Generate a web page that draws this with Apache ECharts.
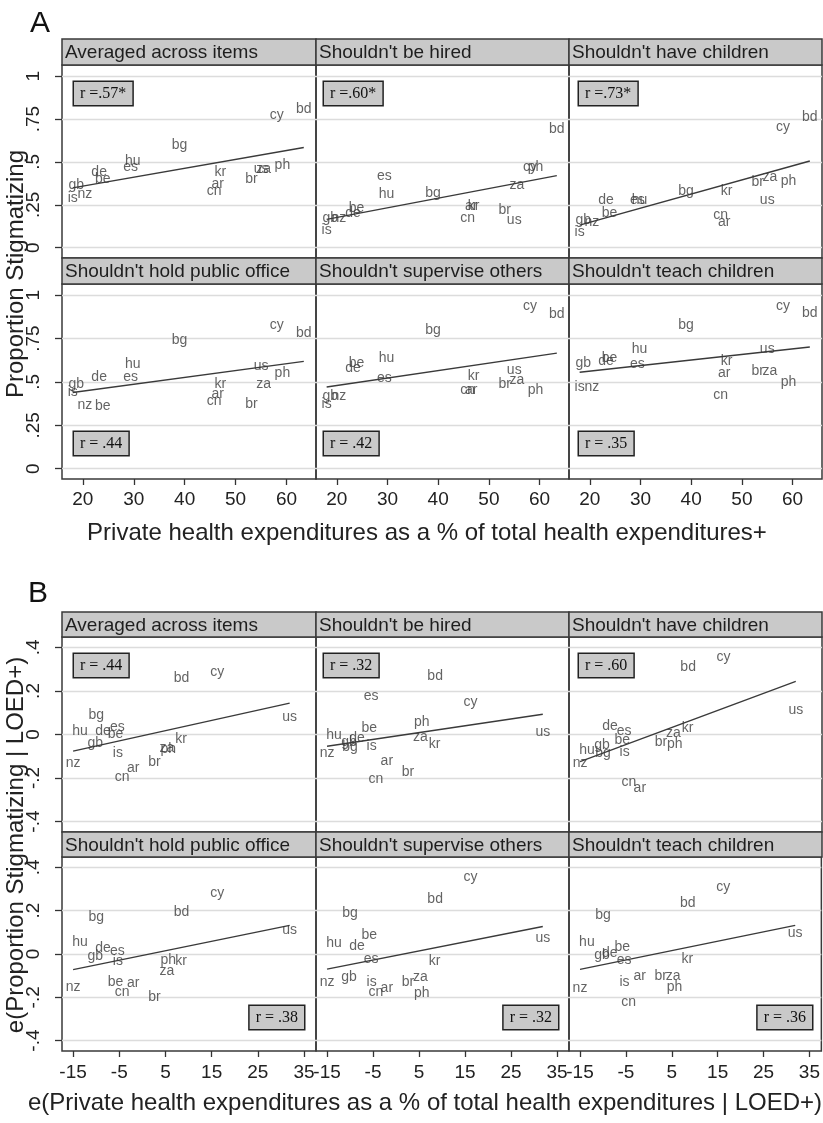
<!DOCTYPE html>
<html><head><meta charset="utf-8">
<script src="https://cdn.jsdelivr.net/npm/echarts@6/dist/echarts.min.js"></script>
<style>html,body{margin:0;padding:0;background:#fff}#c{width:823px;height:1123px}</style>
</head><body><div id="c"></div>
<script>
// ---------- DATA ----------
const countries = ['ar','bd','be','bg','br','cn','cy','de','es','gb','hu','is','kr','nz','ph','us','za'];
const panelTitles = ["Averaged across items","Shouldn't be hired","Shouldn't have children","Shouldn't hold public office","Shouldn't supervise others","Shouldn't teach children"];

// Figure A: private health expenditures (% of total) vs proportion stigmatizing
const xTicksA = [20,30,40,50,60];
const yTicksA = [0,0.25,0.5,0.75,1];
const xA = [46.5,63.4,23.9,39.0,53.1,45.8,58.1,23.2,29.4,18.7,29.8,18.0,47.0,20.4,59.2,55.0,55.5];
const yAvgA       = [0.37,0.81,0.40,0.60,0.40,0.33,0.77,0.44,0.47,0.365,0.504,0.29,0.44,0.31,0.48,0.46,0.46];
const yHiredA     = [0.24,0.69,0.23,0.32,0.22,0.17,0.47,0.20,0.42,0.17,0.31,0.10,0.24,0.17,0.47,0.16,0.365];
const yChildrenA  = [0.15,0.76,0.20,0.33,0.385,0.19,0.70,0.28,0.28,0.16,0.28,0.09,0.33,0.15,0.39,0.28,0.41];
const yOfficeA    = [0.43,0.78,0.36,0.74,0.37,0.39,0.83,0.525,0.525,0.49,0.60,0.44,0.49,0.365,0.55,0.59,0.49];
const ySuperviseA = [0.45,0.89,0.61,0.80,0.49,0.45,0.94,0.58,0.52,0.42,0.635,0.37,0.535,0.42,0.45,0.57,0.51];
const yTeachA     = [0.55,0.895,0.64,0.83,0.56,0.425,0.94,0.62,0.60,0.61,0.69,0.47,0.62,0.47,0.50,0.69,0.56];
const rLabelsA = ['r =.57*','r =.60*','r =.73*','r = .44','r = .42','r = .35'];

// Figure B: residuals given LOED+
const xTicksB = [-15,-5,5,15,25,35];
const yTicksB = [-0.4,-0.2,0,0.2,0.4];
const xB = [-2.0,8.5,-5.8,-10.0,2.6,-4.4,16.2,-8.5,-5.4,-10.2,-13.5,-5.3,8.4,-15.0,5.6,31.9,5.3];
const yAvgB       = [-0.154,0.257,0.0,0.088,-0.125,-0.194,0.288,0.014,0.034,-0.04,0.014,-0.086,-0.023,-0.13,-0.068,0.08,-0.062];
const yHiredB     = [-0.123,0.268,0.031,-0.058,-0.174,-0.205,0.149,-0.015,0.175,-0.035,-0.005,-0.054,-0.046,-0.085,0.057,0.011,-0.012];
const yChildrenB  = [-0.246,0.31,-0.028,-0.086,-0.035,-0.217,0.357,0.037,0.015,-0.05,-0.074,-0.082,0.031,-0.132,-0.046,0.114,0.006];
const yOfficeB    = [-0.135,0.195,-0.132,0.172,-0.2,-0.174,0.283,0.026,0.011,-0.009,0.057,-0.035,-0.035,-0.151,-0.028,0.111,-0.077];
const ySuperviseB = [-0.158,0.252,0.088,0.188,-0.128,-0.174,0.357,0.037,-0.025,-0.105,0.049,-0.128,-0.032,-0.132,-0.18,0.072,-0.108];
const yTeachB     = [-0.1,0.237,0.031,0.18,-0.1,-0.223,0.311,0.003,-0.028,-0.005,0.057,-0.131,-0.025,-0.158,-0.151,0.095,-0.1];
const rLabelsB = ['r = .44','r = .32','r = .60','r = .38','r = .32','r = .36'];

// ---------- LAYOUT ----------
const SANS = '"Liberation Sans", Arial, sans-serif';
const SERIF = '"Liberation Serif", "Times New Roman", serif';
const colLeft = [62,316,569], colW = [254,253,253];
const figs = [
  {x:xA, ys:[yAvgA,yHiredA,yChildrenA,yOfficeA,ySuperviseA,yTeachA], r:rLabelsA,
   xTicks:xTicksA, yTicks:yTicksA, xmin:15.9, xmax:65.8, ymin:-0.06, ymax:1.065,
   rowTop:[65,284], rowH:[193,195], headH:26, xLabMargin:11,
   rPos:[[74,82,'left'],[324,82,'left'],[579,82,'left'],[74,432,'left'],[324,432,'left'],[579,432,'left']]},
  {x:xB, ys:[yAvgB,yHiredB,yChildrenB,yOfficeB,ySuperviseB,yTeachB], r:rLabelsB,
   xTicks:xTicksB, yTicks:yTicksB, xmin:-17.4, xmax:37.6, ymin:-0.448, ymax:0.448,
   rowTop:[637,857], rowH:[195,194], headH:25, xLabMargin:12,
   rPos:[[74,654,'left'],[324,654,'left'],[579,654,'left'],[304,1006,'right'],[558,1006,'right'],[812,1006,'right']]}
];

function fmtY(v){ if (Math.abs(v)<1e-9) return '0'; return String(+v.toFixed(2)).replace('0.', '.'); }
function ols(xs, ys){
  const n=xs.length; let mx=0,my=0; for(let i=0;i<n;i++){mx+=xs[i];my+=ys[i];} mx/=n; my/=n;
  let sxy=0,sxx=0; for(let i=0;i<n;i++){sxy+=(xs[i]-mx)*(ys[i]-my); sxx+=(xs[i]-mx)**2;}
  const b=sxy/sxx, a=my-b*mx; const x0=Math.min(...xs), x1=Math.max(...xs);
  return [[x0,a+b*x0],[x1,a+b*x1]];
}

const grids=[], xAxes=[], yAxes=[], series=[], graphics=[];
let k=0;
figs.forEach((F,f)=>{
  for(let p=0;p<6;p++,k++){
    const r=Math.floor(p/3), c=p%3;
    grids.push({left:colLeft[c], top:F.rowTop[r], width:colW[c], height:F.rowH[r], show:true, borderColor:'#3a3a3a', borderWidth:1.5, containLabel:false});
    xAxes.push({gridIndex:k, type:'value', min:F.xmin, max:F.xmax, position:'bottom',
      axisLine:{show:false, onZero:false}, splitLine:{show:false},
      axisTick:{show:r===1, customValues:F.xTicks, length:6, lineStyle:{color:'#333', width:1.3}},
      axisLabel:{show:r===1, customValues:F.xTicks, fontSize:19, fontFamily:SANS, color:'#222', margin:F.xLabMargin}});
    yAxes.push({gridIndex:k, type:'value', min:F.ymin, max:F.ymax, position:'left',
      axisLine:{show:false, onZero:false},
      axisTick:{show:c===0, customValues:F.yTicks, length:7, lineStyle:{color:'#333', width:1.3}},
      axisLabel:{show:c===0, customValues:F.yTicks, rotate:90, fontSize:19, fontFamily:SANS, color:'#222', margin:19, formatter:fmtY},
      splitLine:{show:true, lineStyle:{color:'#dcdcdc', width:1.3}}});
    const ys=F.ys[p];
    series.push({type:'line', xAxisIndex:k, yAxisIndex:k, data:ols(F.x, ys), symbol:'none', silent:true,
      lineStyle:{color:'#3a3a3a', width:1.4}, z:2});
    series.push({type:'scatter', xAxisIndex:k, yAxisIndex:k, symbolSize:0, silent:true, z:3,
      data:countries.map((cc,i)=>({name:cc, value:[F.x[i], ys[i]]})),
      label:{show:true, position:'inside', formatter:'{b}', fontSize:14, fontFamily:SANS, color:'#3c3c3c'}});
    // header strip
    const hTop=F.rowTop[r]-F.headH;
    graphics.push({type:'rect', shape:{x:colLeft[c], y:hTop, width:colW[c], height:F.headH},
      style:{fill:'#c9c9c9', stroke:'#3a3a3a', lineWidth:1.5}, z:10});
    graphics.push({type:'text', x:colLeft[c]+3, y:hTop+F.headH/2+1, z:11,
      style:{text:panelTitles[p], font:'19px '+SANS, fill:'#1e1e1e', align:'left', verticalAlign:'middle'}});
    // r box
    const rp=F.rPos[p];
    graphics.push({type:'text', x:rp[0], y:rp[1], z:12,
      style:{text:F.r[p], font:'16px '+SERIF, fill:'#111', align:rp[2], verticalAlign:'top',
        backgroundColor:'#c9c9c9', borderColor:'#222', borderWidth:1.5, padding:[4,6,3,6]}});
  }
});

// titles and figure letters
graphics.push({type:'text', x:40, y:24, style:{text:'A', font:'30px '+SANS, fill:'#111', align:'center', verticalAlign:'middle'}});
graphics.push({type:'text', x:38, y:594, style:{text:'B', font:'30px '+SANS, fill:'#111', align:'center', verticalAlign:'middle'}});
graphics.push({type:'text', x:16, y:274, rotation:Math.PI/2, style:{text:'Proportion Stigmatizing', font:'24px '+SANS, fill:'#222', align:'center', verticalAlign:'middle'}});
graphics.push({type:'text', x:16, y:845, rotation:Math.PI/2, style:{text:'e(Proportion Stigmatizing | LOED+)', font:'24px '+SANS, fill:'#222', align:'center', verticalAlign:'middle'}});
graphics.push({type:'text', x:427, y:533, style:{text:'Private health expenditures as a % of total health expenditures+', font:'24px '+SANS, fill:'#222', align:'center', verticalAlign:'middle'}});
graphics.push({type:'text', x:425, y:1103, style:{text:'e(Private health expenditures as a % of total health expenditures | LOED+)', font:'24px '+SANS, fill:'#222', align:'center', verticalAlign:'middle'}});

const chart = echarts.init(document.getElementById('c'), null, {renderer:'canvas'});
chart.setOption({
  animation:false, backgroundColor:'#fff',
  grid:grids, xAxis:xAxes, yAxis:yAxes, series:series, graphic:graphics
});
</script></body></html>
